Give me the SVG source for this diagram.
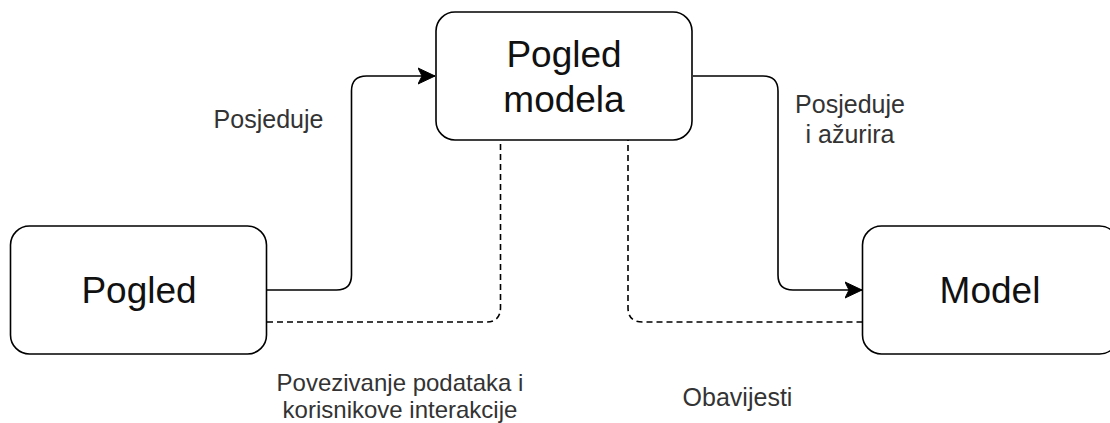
<svg xmlns="http://www.w3.org/2000/svg" width="1110" height="423" viewBox="0 0 1110 423">
<style>
.node{fill:#fff;stroke:#000;stroke-width:1.6}
.ntext{font-family:"Liberation Sans",Arial,sans-serif;font-size:37px;fill:#111;text-anchor:middle}
.ltext{font-family:"Liberation Sans",Arial,sans-serif;font-size:25px;fill:#333;text-anchor:middle}
.small{font-size:24px}
.edge{fill:none;stroke:#000;stroke-width:1.6}
.dash{stroke-dasharray:6 4}
</style>
<defs>
<marker id="arrow" markerWidth="18" markerHeight="18" refX="17" refY="9" orient="auto" markerUnits="userSpaceOnUse">
<path d="M17,9 L0,1 L4,9 L0,17 Z" fill="#000" stroke="#000" stroke-width="1"/>
</marker>
</defs>
<rect width="1110" height="423" fill="#fff"/>
<g id="connectors">
<path class="edge" d="M267,290 H336.5 Q351.5,290 351.5,275 V91 Q351.5,76 366.5,76 H435" marker-end="url(#arrow)"/>
<path class="edge" d="M693,76 H763 Q778,76 778,91 V275 Q778,290 793,290 H862" marker-end="url(#arrow)"/>
<path class="edge dash" d="M267,322 H486 Q500.5,322 500.5,307.5 V140"/>
<path class="edge dash" d="M862.5,322 H642.5 Q628,322 628,307.5 V140"/>
</g>
<g id="node-pogled-modela">
<rect class="node" x="436" y="12" width="256" height="128" rx="19" ry="19"/>
<text class="ntext" x="564" y="67">Pogled</text>
<text class="ntext" x="564" y="111.5">modela</text>
</g>
<g id="node-pogled">
<rect class="node" x="10.5" y="226" width="256" height="128" rx="19" ry="19"/>
<text class="ntext" x="139" y="303">Pogled</text>
</g>
<g id="node-model">
<rect class="node" x="862.5" y="226" width="256" height="128" rx="19" ry="19"/>
<text class="ntext" x="990" y="303">Model</text>
</g>
<g id="labels">
<text class="ltext" x="268.5" y="128">Posjeduje</text>
<text class="ltext" x="850" y="113">Posjeduje</text>
<text class="ltext" x="850" y="143">i ažurira</text>
<text class="ltext small" x="400" y="391">Povezivanje podataka i</text>
<text class="ltext small" x="400" y="417.5">korisnikove interakcije</text>
<text class="ltext" x="737.5" y="405.5">Obavijesti</text>
</g>
</svg>
